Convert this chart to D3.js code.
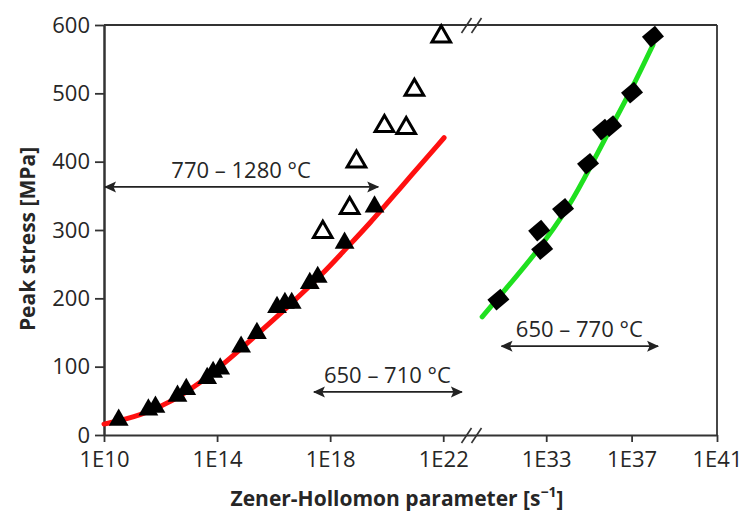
<!DOCTYPE html>
<html>
<head>
<meta charset="utf-8">
<script src="https://cdn.jsdelivr.net/npm/d3@7/dist/d3.min.js"></script>
<style>
    body { margin: 0; background: #fff; }
    svg text { font-family: 'Open Sans', sans-serif; fill: #262626; }
</style>
</head>
<body>
<div id="chart"></div>
<script>
// filled triangles, 770 - 1280 °C  (log10 Z, peak stress MPa)
const hotLogZ   = [10.52, 11.57, 11.82, 12.60, 12.91, 13.65, 13.86, 14.11, 14.85, 15.41, 16.12, 16.40, 16.64, 17.28, 17.56, 18.51, 19.57];
const hotStress = [22, 37, 41, 57, 67, 83, 92, 97, 129, 149, 187, 193, 193, 222, 231, 281, 334];

// open triangles, 650 - 710 °C
const lowLogZ   = [17.74, 18.69, 18.93, 19.92, 20.69, 20.98, 21.93];
const lowStress = [297, 332, 400, 452, 449, 505, 583];

// diamonds, 650 - 770 °C (second fit)
const shiftLogZ   = [30.76, 32.67, 32.81, 33.79, 34.96, 35.66, 36.04, 37.02, 38.00];
const shiftStress = [198, 299, 272, 331, 397, 447, 452, 501, 583];

// fit curves
const redLogZ   = [10.0, 11.3, 12.45, 13.4, 14.46, 15.41, 16.57, 17.74, 18.45, 19.39, 20.45, 22.03];
const redStress = [16, 28, 50, 76, 112, 147, 190, 236, 268, 309, 360, 435];
const greenLogZ   = [30.0, 31.0, 32.58, 34.12, 35.06, 36.0, 37.07, 38.0];
const greenStress = [173, 210, 268, 336, 392, 448, 510, 571];

// axis ticks
const leftTicks  = [10, 14, 18, 22];
const rightTicks = [33, 37, 41];
const yTicks = [0, 100, 200, 300, 400, 500, 600];

// range annotations: [from logZ, to logZ, stress level, label, which scale]
const ranges = [
    [10.0, 19.7, 363, '770 – 1280 °C', 'left'],
    [17.39, 22.66, 63, '650 – 710 °C', 'left'],
    [30.86, 38.24, 130, '650 – 770 °C', 'right']
];

const width = 745, height = 513;
const mLeft = 104, mRight = 717, mTop = 25, mBottom = 435, breakX = 471.5;

const svg = d3.select('#chart').append('svg')
    .attr('width', width)
    .attr('height', height);

// two log scales around the axis break
const xLeft = d3.scaleLog().domain([1e10, 1e23]).range([mLeft, breakX]);
const xRight = d3.scaleLog().domain([Math.pow(10, 29.5), 1e41]).range([breakX, mRight]);
const y = d3.scaleLinear().domain([0, 600]).range([mBottom, mTop]);

const zip = (xs, ys) => xs.map((d, i) => [Math.pow(10, d), ys[i]]);
const fmt = d => '1E' + Math.round(Math.log10(d));

// frame
svg.append('line').attr('x1', mLeft).attr('x2', mRight).attr('y1', mTop).attr('y2', mTop)
    .attr('stroke', '#333').attr('stroke-width', 1.8);
svg.append('line').attr('x1', mRight).attr('x2', mRight).attr('y1', mTop).attr('y2', mBottom)
    .attr('stroke', '#333').attr('stroke-width', 1.8);

// axes
function styleAxis(g) {
    g.attr('font-family', "'Open Sans', sans-serif").attr('font-size', 22).attr('color', '#333');
    g.select('.domain').attr('stroke-width', 2);
    g.selectAll('.tick line').attr('stroke-width', 1.8);
    g.selectAll('.tick text').attr('fill', '#262626');
}

svg.append('g')
    .attr('transform', `translate(0,${mBottom})`)
    .call(d3.axisBottom(xLeft).tickValues(leftTicks.map(d => Math.pow(10, d)))
        .tickFormat(fmt).tickSize(7).tickSizeOuter(0).tickPadding(9))
    .call(styleAxis);

svg.append('g')
    .attr('transform', `translate(0,${mBottom})`)
    .call(d3.axisBottom(xRight).tickValues(rightTicks.map(d => Math.pow(10, d)))
        .tickFormat(fmt).tickSize(7).tickSizeOuter(0).tickPadding(9))
    .call(styleAxis);

svg.append('g')
    .attr('transform', `translate(${mLeft},0)`)
    .call(d3.axisLeft(y).tickValues(yTicks).tickSize(9).tickSizeOuter(0).tickPadding(5))
    .call(styleAxis)
    .call(g => g.select('.domain').attr('stroke-width', 2.5));

// break marks "//" on top and bottom
[mTop, mBottom].forEach(yy => {
    [-5, 5].forEach(off => {
        svg.append('line')
            .attr('x1', breakX + off - 5).attr('y1', yy + 8)
            .attr('x2', breakX + off + 5).attr('y2', yy - 7)
            .attr('stroke', '#333').attr('stroke-width', 1.6);
    });
});

// fit curves
const lineL = d3.line().x(d => xLeft(d[0])).y(d => y(d[1])).curve(d3.curveBasis);
const lineR = d3.line().x(d => xRight(d[0])).y(d => y(d[1])).curve(d3.curveBasis);

svg.append('path').datum(zip(redLogZ, redStress))
    .attr('d', lineL).attr('fill', 'none')
    .attr('stroke', '#ff1010').attr('stroke-width', 5).attr('stroke-linecap', 'round');

svg.append('path').datum(zip(greenLogZ, greenStress))
    .attr('d', lineR).attr('fill', 'none')
    .attr('stroke', '#1fe01f').attr('stroke-width', 5).attr('stroke-linecap', 'round');

// markers
const tri = d3.symbol(d3.symbolTriangle).size(170);
const triOpen = d3.symbol(d3.symbolTriangle).size(150);

svg.append('g').selectAll('path')
    .data(zip(hotLogZ, hotStress))
    .join('path')
    .attr('d', tri)
    .attr('transform', d => `translate(${xLeft(d[0])},${y(d[1])})`)
    .attr('fill', '#000');

svg.append('g').selectAll('path')
    .data(zip(lowLogZ, lowStress))
    .join('path')
    .attr('d', triOpen)
    .attr('transform', d => `translate(${xLeft(d[0])},${y(d[1])})`)
    .attr('fill', '#fff')
    .attr('stroke', '#000')
    .attr('stroke-width', 3)
    .attr('stroke-linejoin', 'miter');

svg.append('g').selectAll('rect')
    .data(zip(shiftLogZ, shiftStress))
    .join('rect')
    .attr('x', -8.5).attr('y', -7)
    .attr('width', 17).attr('height', 14)
    .attr('transform', d => `translate(${xRight(d[0])},${y(d[1])}) rotate(-40)`)
    .attr('fill', '#000');

// arrow heads
const defs = svg.append('defs');
defs.append('marker')
    .attr('id', 'head')
    .attr('viewBox', '0 -6 12 12')
    .attr('refX', 11).attr('refY', 0)
    .attr('markerWidth', 12).attr('markerHeight', 12)
    .attr('markerUnits', 'userSpaceOnUse')
    .attr('orient', 'auto-start-reverse')
    .append('path')
    .attr('d', 'M0,-5.5L12,0L0,5.5L2.5,0Z')
    .attr('fill', '#222');

// range annotations
ranges.forEach(([a, b, v, label, side]) => {
    const sx = side === 'left' ? xLeft : xRight;
    const x1 = sx(Math.pow(10, a)), x2 = sx(Math.pow(10, b)), yy = y(v);
    svg.append('line')
        .attr('x1', x1 + 1).attr('x2', x2).attr('y1', yy).attr('y2', yy)
        .attr('stroke', '#222').attr('stroke-width', 1.8)
        .attr('marker-start', 'url(#head)')
        .attr('marker-end', 'url(#head)');
    svg.append('text')
        .attr('x', (x1 + x2) / 2).attr('y', yy - 9)
        .attr('text-anchor', 'middle')
        .attr('font-size', 22)
        .text(label);
});

// axis titles
const xTitle = svg.append('text')
    .attr('x', 397).attr('y', 506)
    .attr('text-anchor', 'middle')
    .attr('font-size', 21).attr('font-weight', 'bold')
    .text('Zener-Hollomon parameter [s');
xTitle.append('tspan').attr('dy', -9).attr('font-size', 14).text('−1');
xTitle.append('tspan').attr('dy', 9).text(']');

svg.append('text')
    .attr('transform', 'translate(35,239) rotate(-90)')
    .attr('text-anchor', 'middle')
    .attr('font-size', 21).attr('font-weight', 'bold')
    .text('Peak stress [MPa]');
</script>
</body>
</html>
